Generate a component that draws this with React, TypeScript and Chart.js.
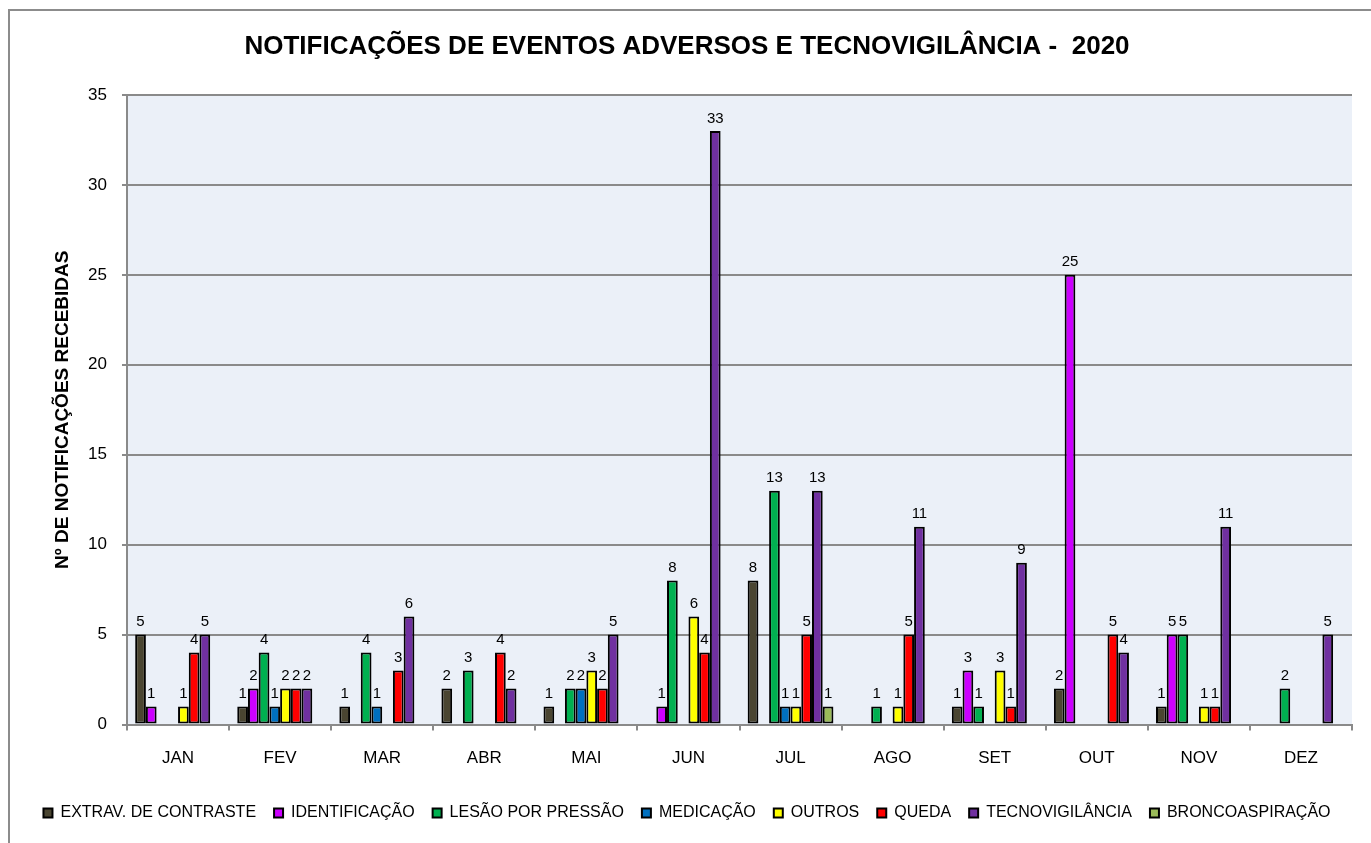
import React, { useEffect, useRef } from "react";
import { Chart, registerables } from "chart.js";

Chart.register(...registerables);

const months = ["JAN", "FEV", "MAR", "ABR", "MAI", "JUN", "JUL", "AGO", "SET", "OUT", "NOV", "DEZ"];

const extravContraste = [5, 1, 1, 2, 1, 0, 8, 0, 1, 2, 1, 0];
const identificacao = [1, 2, 0, 0, 0, 1, 0, 0, 3, 25, 5, 0];
const lesaoPressao = [0, 4, 4, 3, 2, 8, 13, 1, 1, 0, 5, 2];
const medicacao = [0, 1, 1, 0, 2, 0, 1, 0, 0, 0, 0, 0];
const outros = [1, 2, 0, 0, 3, 6, 1, 1, 3, 0, 1, 0];
const queda = [4, 2, 3, 4, 2, 4, 5, 5, 1, 5, 1, 0];
const tecnovigilancia = [5, 2, 6, 2, 5, 33, 13, 11, 9, 4, 11, 5];
const broncoaspiracao = [0, 0, 0, 0, 0, 0, 1, 0, 0, 0, 0, 0];

const seriesNames = [
  "EXTRAV. DE CONTRASTE",
  "IDENTIFICAÇÃO",
  "LESÃO POR PRESSÃO",
  "MEDICAÇÃO",
  "OUTROS",
  "QUEDA",
  "TECNOVIGILÂNCIA",
  "BRONCOASPIRAÇÃO",
];
const seriesValues = [
  extravContraste,
  identificacao,
  lesaoPressao,
  medicacao,
  outros,
  queda,
  tecnovigilancia,
  broncoaspiracao,
];
const seriesColors = ["#4a4531", "#cc00ff", "#00b050", "#0070c0", "#ffff00", "#ff0000", "#7030a0", "#9bbb59"];

const yTicks = [0, 5, 10, 15, 20, 25, 30, 35];

const FONT = '"Liberation Sans", Arial, Helvetica, sans-serif';
const GRID = "#8a8a8a";

const plotBg = {
  id: "plotBg",
  beforeDraw(chart: any) {
    const { ctx, chartArea } = chart;
    ctx.save();
    ctx.fillStyle = "#ebf0f8";
    ctx.fillRect(chartArea.left, chartArea.top, chartArea.right - chartArea.left, chartArea.bottom - chartArea.top);
    ctx.restore();
  },
};

const valueLabels = {
  id: "valueLabels",
  afterDatasetsDraw(chart: any) {
    const ctx = chart.ctx;
    ctx.save();
    ctx.font = "15px " + FONT;
    ctx.fillStyle = "#000";
    ctx.textAlign = "center";
    ctx.textBaseline = "bottom";
    chart.data.datasets.forEach((ds: any, i: number) => {
      const meta = chart.getDatasetMeta(i);
      meta.data.forEach((el: any, j: number) => {
        const v = ds.data[j];
        if (v == null) return;
        ctx.fillText(String(v), el.x, el.y - 5);
      });
    });
    ctx.restore();
  },
};

export default function App() {
  const ref = useRef<HTMLCanvasElement | null>(null);

  useEffect(() => {
    if (!ref.current) return;
    const chart = new Chart(ref.current, {
      type: "bar",
      data: {
        labels: months,
        datasets: seriesNames.map((name, i) => ({
          label: name,
          data: seriesValues[i].map((v) => (v === 0 ? null : v)),
          backgroundColor: seriesColors[i],
          borderColor: "#000000",
          borderWidth: 2,
          borderSkipped: false,
          categoryPercentage: 0.84,
          barPercentage: 1.0,
        })),
      },
      options: {
        animation: false,
        responsive: false,
        maintainAspectRatio: false,
        color: "#000",
        layout: { padding: { left: 22, right: 19, top: 0, bottom: 12 } },
        plugins: {
          title: {
            display: true,
            text: "NOTIFICAÇÕES DE EVENTOS ADVERSOS E TECNOVIGILÂNCIA -  2020",
            color: "#000",
            font: { family: FONT, size: 26, weight: "bold" },
            padding: { top: 31.4, bottom: 32.4 },
          },
          legend: {
            display: true,
            position: "bottom",
            labels: {
              color: "#000",
              font: { family: FONT, size: 16 },
              boxWidth: 9,
              boxHeight: 9,
              padding: 18,
            },
          },
          tooltip: { enabled: false },
        },
        scales: {
          x: {
            grid: {
              display: true,
              drawOnChartArea: false,
              drawTicks: true,
              tickLength: 6,
              color: GRID,
              lineWidth: 2,
              offset: true,
            },
            border: { display: true, color: GRID, width: 2 },
            ticks: {
              color: "#000",
              font: { family: FONT, size: 17 },
              padding: 18,
              maxRotation: 0,
            },
            afterFit(scale: any) {
              scale.height = 62.5;
            },
          },
          y: {
            min: 0,
            max: 35,
            afterBuildTicks(scale: any) {
              scale.ticks = yTicks.map((v) => ({ value: v }));
            },
            grid: {
              color: GRID,
              lineWidth: 2,
              drawTicks: true,
              tickLength: 5,
            },
            border: { display: true, color: GRID, width: 2 },
            ticks: {
              color: "#000",
              font: { family: FONT, size: 17 },
              padding: 15,
            },
            title: {
              display: true,
              text: "Nº DE NOTIFICAÇÕES RECEBIDAS",
              color: "#000",
              font: { family: FONT, size: 19, weight: "bold" },
              padding: { top: 29.6, bottom: 0 },
            },
            afterFit(scale: any) {
              scale.width = 105;
            },
          },
        },
      },
      plugins: [plotBg, valueLabels],
    });
    return () => chart.destroy();
  }, []);

  return (
    <div style={{ position: "absolute", left: 0, top: 0, width: 1371, height: 843, overflow: "hidden", background: "#fff" }}>
      <div
        style={{
          position: "absolute",
          left: 8,
          top: 9,
          width: 1400,
          height: 900,
          border: "2px solid #8c8c8c",
          boxSizing: "border-box",
        }}
      />
      <canvas ref={ref} width={1371} height={843} style={{ position: "absolute", left: 0, top: 0, width: 1371, height: 843 }} />
    </div>
  );
}
